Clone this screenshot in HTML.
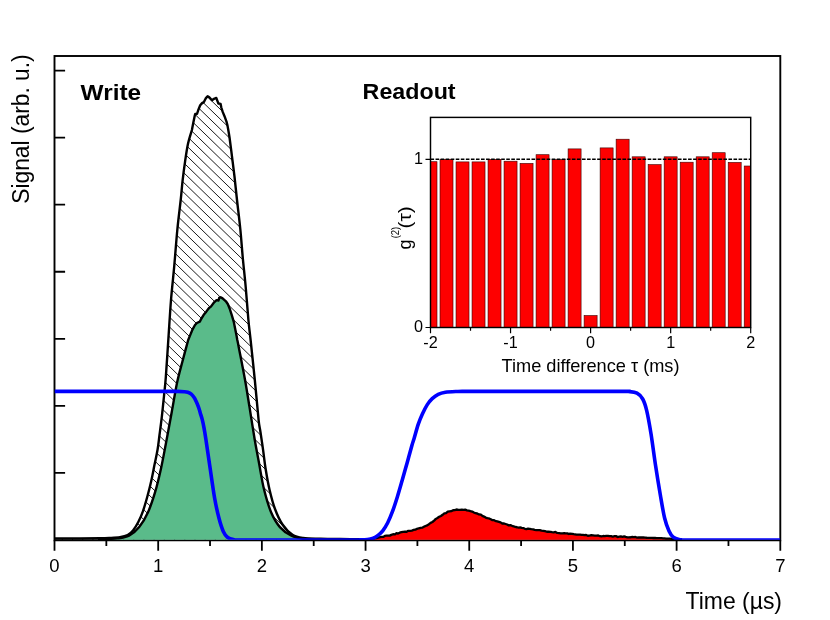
<!DOCTYPE html>
<html><head><meta charset="utf-8"><title>Write / Readout signal</title>
<style>html,body{margin:0;padding:0;background:#fff;}body{width:830px;height:620px;overflow:hidden;font-family:"Liberation Sans",sans-serif;}svg{display:block;will-change:transform;}</style>
</head><body>
<svg width="830" height="620" viewBox="0 0 830 620">
<defs>
<clipPath id="ic"><rect x="430.50" y="117.40" width="320.20" height="210.10"/></clipPath>
<clipPath id="pc"><rect x="54.50" y="56.00" width="725.80" height="483.85"/></clipPath>
<clipPath id="pc2"><rect x="54.50" y="56.00" width="725.80" height="485.30"/></clipPath>
</defs>
<rect width="830" height="620" fill="#fff"/>
<clipPath id="hc"><path d="M54.50,538.50 C58.75,538.50 72.42,538.53 80.00,538.50 C87.58,538.47 95.13,538.38 100.00,538.30 C104.87,538.22 105.88,538.18 109.20,538.00 C112.52,537.82 116.83,537.68 119.90,537.20 C122.97,536.72 125.42,536.22 127.60,535.10 C129.78,533.98 131.22,532.68 133.00,530.50 C134.78,528.32 136.65,525.20 138.30,522.00 C139.95,518.80 141.37,515.63 142.90,511.30 C144.43,506.97 146.10,501.10 147.50,496.00 C148.90,490.90 150.15,485.82 151.30,480.70 C152.45,475.58 153.37,470.42 154.40,465.30 C155.43,460.18 156.65,455.05 157.50,450.00 C158.35,444.95 158.77,440.65 159.50,435.00 C160.23,429.35 161.15,422.60 161.90,416.10 C162.65,409.60 163.35,402.45 164.00,396.00 C164.65,389.55 165.07,386.95 165.80,377.40 C166.53,367.85 167.53,351.60 168.40,338.70 C169.27,325.80 170.05,311.83 171.00,300.00 C171.95,288.17 173.03,279.53 174.10,267.70 C175.17,255.87 176.30,240.28 177.40,229.00 C178.50,217.72 179.83,208.07 180.70,200.00 C181.57,191.93 181.87,187.05 182.60,180.60 C183.33,174.15 184.20,167.43 185.10,161.30 C186.00,155.17 186.87,149.02 188.00,143.80 C189.13,138.58 191.25,132.30 191.90,130.00 L191.90,130.00 L193.30,122.70 L194.80,115.50 L195.20,114.00 L197.00,114.00 L198.40,109.70 L200.20,105.30 L202.10,103.10 L203.90,102.10 L205.70,98.40 L207.60,96.20 L209.30,97.30 L212.00,100.20 L214.00,98.80 L216.30,97.90 L217.30,100.60 L218.40,103.50 L220.60,103.90 L221.30,107.50 L222.70,111.90 L224.50,116.20 L226.40,121.30 L227.50,125.60 L228.30,130.00 L228.30,130.00 C228.52,131.33 228.97,133.43 229.60,138.00 C230.23,142.57 231.28,150.95 232.10,157.40 C232.92,163.85 233.68,169.60 234.50,176.70 C235.32,183.80 236.03,191.28 237.00,200.00 C237.97,208.72 239.33,219.33 240.30,229.00 C241.27,238.67 241.90,248.33 242.80,258.00 C243.70,267.67 244.77,276.67 245.70,287.00 C246.63,297.33 247.58,311.17 248.40,320.00 C249.22,328.83 249.53,330.03 250.60,340.00 C251.67,349.97 253.47,366.47 254.80,379.80 C256.13,393.13 257.68,411.47 258.60,420.00 C259.52,428.53 259.57,426.12 260.30,431.00 C261.03,435.88 262.12,443.02 263.00,449.30 C263.88,455.58 264.50,461.92 265.60,468.70 C266.70,475.48 268.03,483.28 269.60,490.00 C271.17,496.72 272.85,503.25 275.00,509.00 C277.15,514.75 279.58,520.20 282.50,524.50 C285.42,528.80 289.05,532.55 292.50,534.80 C295.95,537.05 298.53,537.35 303.20,538.00 C307.87,538.65 314.37,538.53 320.50,538.70 C326.63,538.87 332.58,538.92 340.00,539.00 C347.42,539.08 360.83,539.17 365.00,539.20 L365,540 L54.5,540 Z"/></clipPath>
<path clip-path="url(#hc)" d="M309.73,-486.26 L884.23,70.47 M304.79,-481.16 L879.29,75.57 M299.85,-476.06 L874.35,80.67 M294.91,-470.96 L869.41,85.77 M289.96,-465.87 L864.47,90.86 M285.02,-460.77 L859.52,95.96 M280.08,-455.67 L854.58,101.06 M275.14,-450.57 L849.64,106.16 M270.20,-445.47 L844.70,111.26 M265.26,-440.37 L839.76,116.36 M260.32,-435.27 L834.82,121.46 M255.38,-430.18 L829.88,126.56 M250.44,-425.08 L824.94,131.65 M245.50,-419.98 L820.00,136.75 M240.55,-414.88 L815.06,141.85 M235.61,-409.78 L810.11,146.95 M230.67,-404.68 L805.17,152.05 M225.73,-399.58 L800.23,157.15 M220.79,-394.48 L795.29,162.25 M215.85,-389.39 L790.35,167.34 M210.91,-384.29 L785.41,172.44 M205.97,-379.19 L780.47,177.54 M201.03,-374.09 L775.53,182.64 M196.09,-368.99 L770.59,187.74 M191.14,-363.89 L765.65,192.84 M186.20,-358.79 L760.70,197.94 M181.26,-353.69 L755.76,203.04 M176.32,-348.60 L750.82,208.13 M171.38,-343.50 L745.88,213.23 M166.44,-338.40 L740.94,218.33 M161.50,-333.30 L736.00,223.43 M156.56,-328.20 L731.06,228.53 M151.62,-323.10 L726.12,233.63 M146.68,-318.00 L721.18,238.73 M141.73,-312.91 L716.24,243.83 M136.79,-307.81 L711.29,248.92 M131.85,-302.71 L706.35,254.02 M126.91,-297.61 L701.41,259.12 M121.97,-292.51 L696.47,264.22 M117.03,-287.41 L691.53,269.32 M112.09,-282.31 L686.59,274.42 M107.15,-277.21 L681.65,279.52 M102.21,-272.12 L676.71,284.61 M97.27,-267.02 L671.77,289.71 M92.32,-261.92 L666.83,294.81 M87.38,-256.82 L661.88,299.91 M82.44,-251.72 L656.94,305.01 M77.50,-246.62 L652.00,310.11 M72.56,-241.52 L647.06,315.21 M67.62,-236.42 L642.12,320.31 M62.68,-231.33 L637.18,325.40 M57.74,-226.23 L632.24,330.50 M52.80,-221.13 L627.30,335.60 M47.86,-216.03 L622.36,340.70 M42.91,-210.93 L617.42,345.80 M37.97,-205.83 L612.48,350.90 M33.03,-200.73 L607.53,356.00 M28.09,-195.64 L602.59,361.10 M23.15,-190.54 L597.65,366.19 M18.21,-185.44 L592.71,371.29 M13.27,-180.34 L587.77,376.39 M8.33,-175.24 L582.83,381.49 M3.39,-170.14 L577.89,386.59 M-1.55,-165.04 L572.95,391.69 M-6.49,-159.94 L568.01,396.79 M-11.44,-154.85 L563.07,401.88 M-16.38,-149.75 L558.12,406.98 M-21.32,-144.65 L553.18,412.08 M-26.26,-139.55 L548.24,417.18 M-31.20,-134.45 L543.30,422.28 M-36.14,-129.35 L538.36,427.38 M-41.08,-124.25 L533.42,432.48 M-46.02,-119.15 L528.48,437.58 M-50.96,-114.06 L523.54,442.67 M-55.90,-108.96 L518.60,447.77 M-60.85,-103.86 L513.66,452.87 M-65.79,-98.76 L508.71,457.97 M-70.73,-93.66 L503.77,463.07 M-75.67,-88.56 L498.83,468.17 M-80.61,-83.46 L493.89,473.27 M-85.55,-78.37 L488.95,478.37 M-90.49,-73.27 L484.01,483.46 M-95.43,-68.17 L479.07,488.56 M-100.37,-63.07 L474.13,493.66 M-105.31,-57.97 L469.19,498.76 M-110.26,-52.87 L464.25,503.86 M-115.20,-47.77 L459.30,508.96 M-120.14,-42.67 L454.36,514.06 M-125.08,-37.58 L449.42,519.15 M-130.02,-32.48 L444.48,524.25 M-134.96,-27.38 L439.54,529.35 M-139.90,-22.28 L434.60,534.45 M-144.84,-17.18 L429.66,539.55 M-149.78,-12.08 L424.72,544.65 M-154.72,-6.98 L419.78,549.75 M-159.67,-1.88 L414.84,554.85 M-164.61,3.21 L409.89,559.94 M-169.55,8.31 L404.95,565.04 M-174.49,13.41 L400.01,570.14 M-179.43,18.51 L395.07,575.24 M-184.37,23.61 L390.13,580.34 M-189.31,28.71 L385.19,585.44 M-194.25,33.81 L380.25,590.54 M-199.19,38.90 L375.31,595.64 M-204.13,44.00 L370.37,600.73 M-209.08,49.10 L365.43,605.83 M-214.02,54.20 L360.49,610.93 M-218.96,59.30 L355.54,616.03 M-223.90,64.40 L350.60,621.13 M-228.84,69.50 L345.66,626.23 M-233.78,74.60 L340.72,631.33 M-238.72,79.69 L335.78,636.42 M-243.66,84.79 L330.84,641.52 M-248.60,89.89 L325.90,646.62 M-253.54,94.99 L320.96,651.72 M-258.48,100.09 L316.02,656.82 M-263.43,105.19 L311.08,661.92 M-268.37,110.29 L306.13,667.02 M-273.31,115.39 L301.19,672.12 M-278.25,120.48 L296.25,677.21 M-283.19,125.58 L291.31,682.31 M-288.13,130.68 L286.37,687.41 M-293.07,135.78 L281.43,692.51 M-298.01,140.88 L276.49,697.61 M-302.95,145.98 L271.55,702.71 M-307.89,151.08 L266.61,707.81 M-312.84,156.17 L261.67,712.91 M-317.78,161.27 L256.72,718.00 M-322.72,166.37 L251.78,723.10 M-327.66,171.47 L246.84,728.20 M-332.60,176.57 L241.90,733.30 M-337.54,181.67 L236.96,738.40 M-342.48,186.77 L232.02,743.50 M-347.42,191.87 L227.08,748.60 M-352.36,196.96 L222.14,753.69 M-357.30,202.06 L217.20,758.79 M-362.25,207.16 L212.26,763.89 M-367.19,212.26 L207.31,768.99 M-372.13,217.36 L202.37,774.09 M-377.07,222.46 L197.43,779.19 M-382.01,227.56 L192.49,784.29 M-386.95,232.66 L187.55,789.39 M-391.89,237.75 L182.61,794.48 M-396.83,242.85 L177.67,799.58 M-401.77,247.95 L172.73,804.68 M-406.71,253.05 L167.79,809.78 M-411.66,258.15 L162.85,814.88 M-416.60,263.25 L157.90,819.98 M-421.54,268.35 L152.96,825.08 M-426.48,273.44 L148.02,830.18 M-431.42,278.54 L143.08,835.27 M-436.36,283.64 L138.14,840.37 M-441.30,288.74 L133.20,845.47 M-446.24,293.84 L128.26,850.57 M-451.18,298.94 L123.32,855.67 M-456.12,304.04 L118.38,860.77 M-461.07,309.14 L113.44,865.87 M-466.01,314.23 L108.49,870.96 M-470.95,319.33 L103.55,876.06 M-475.89,324.43 L98.61,881.16" stroke="#000" stroke-width="0.90" fill="none"/>
<rect x="54.50" y="56.00" width="725.80" height="484.30" fill="none" stroke="#000" stroke-width="1.9"/>
<path d="M54.50,70.60 h10.6 M54.50,137.65 h10.6 M54.50,204.70 h10.6 M54.50,271.75 h10.6 M54.50,338.80 h10.6 M54.50,405.85 h10.6 M54.50,472.90 h10.6 M54.50,540.30 v10.4 M106.34,540.30 v5.8 M158.19,540.30 v10.4 M210.03,540.30 v5.8 M261.87,540.30 v10.4 M313.71,540.30 v5.8 M365.56,540.30 v10.4 M417.40,540.30 v5.8 M469.24,540.30 v10.4 M521.09,540.30 v5.8 M572.93,540.30 v10.4 M624.77,540.30 v5.8 M676.61,540.30 v10.4 M728.46,540.30 v5.8 M780.30,540.30 v10.4" stroke="#000" stroke-width="1.8" fill="none"/>
<path d="M98.00,539.20 C101.23,539.07 112.23,538.97 117.40,538.40 C122.57,537.83 125.37,537.68 129.00,535.80 C132.63,533.92 136.05,530.98 139.20,527.10 C142.35,523.22 145.25,518.32 147.90,512.50 C150.55,506.68 152.93,499.45 155.10,492.20 C157.27,484.95 159.08,477.20 160.90,469.00 C162.72,460.80 164.18,452.55 166.00,443.00 C167.82,433.45 169.95,421.78 171.80,411.70 C173.65,401.62 175.32,390.92 177.10,382.50 C178.88,374.08 180.65,368.28 182.50,361.20 C184.35,354.12 187.25,343.53 188.20,340.00 L188.20,340.00 L190.20,335.10 L192.60,329.30 L195.00,325.00 L196.90,323.00 L199.80,321.60 L200.80,319.70 L203.70,314.80 L206.10,311.90 L209.00,308.00 L210.90,306.60 L213.80,302.70 L216.60,300.10 L218.50,300.50 L219.20,297.90 L220.60,297.20 L222.60,298.40 L225.90,301.30 L227.90,304.20 L229.80,309.00 L231.70,314.80 L233.70,321.60 L235.10,328.40 L236.60,336.10 L237.30,340.00 L237.30,340.00 C237.57,341.33 237.62,341.37 238.90,348.00 C240.18,354.63 243.25,370.07 245.00,379.80 C246.75,389.53 247.80,396.53 249.40,406.40 C251.00,416.27 252.97,429.40 254.60,439.00 C256.23,448.60 257.63,455.62 259.20,464.00 C260.77,472.38 262.00,481.22 264.00,489.30 C266.00,497.38 268.55,506.20 271.20,512.50 C273.85,518.80 276.52,523.22 279.90,527.10 C283.28,530.98 287.63,533.87 291.50,535.80 C295.37,537.73 298.35,538.10 303.10,538.70 C307.85,539.30 317.18,539.28 320.00,539.40 L320,539.85 L98,539.85 Z" fill="#5abb8a" stroke="none"/>
<path d="M362.00,539.36 L363.08,539.26 L364.59,539.27 L366.39,539.05 L368.32,539.03 L370.24,538.86 L372.02,538.66 L373.50,538.60 L375.44,538.23 L376.97,537.99 L378.39,537.58 L380.00,537.22 L381.52,536.92 L383.14,536.94 L384.80,535.96 L386.44,535.70 L388.00,535.71 L389.75,535.59 L391.38,534.84 L393.06,534.26 L395.00,534.33 L396.47,533.17 L398.04,533.57 L399.69,532.72 L401.41,532.23 L403.18,531.84 L405.00,531.63 L406.63,531.75 L408.34,530.84 L410.10,530.86 L411.88,530.56 L413.64,529.94 L415.36,529.69 L417.00,528.81 L418.80,528.27 L420.53,527.86 L422.21,527.71 L423.87,526.83 L425.52,525.99 L427.20,525.38 L428.92,524.21 L430.66,522.86 L432.40,522.00 L434.12,520.58 L435.79,518.90 L437.40,518.07 L439.22,516.81 L440.95,515.98 L442.62,514.80 L444.29,513.45 L446.00,513.23 L447.75,511.74 L449.51,511.40 L451.28,511.20 L453.04,510.24 L454.80,510.19 L456.55,509.50 L458.29,509.84 L460.02,509.79 L461.76,509.59 L463.50,509.94 L465.24,509.64 L466.98,510.32 L468.72,510.65 L470.46,511.13 L472.20,511.56 L473.89,512.49 L475.54,513.23 L477.21,513.50 L478.97,514.43 L480.90,514.70 L482.40,515.92 L484.00,516.56 L485.67,517.60 L487.38,518.19 L489.10,518.45 L490.82,519.24 L492.50,520.15 L494.13,520.17 L495.73,521.14 L497.32,521.42 L498.93,521.91 L500.57,522.37 L502.29,523.52 L504.10,523.47 L505.58,523.98 L507.13,524.52 L508.72,525.37 L510.35,525.06 L512.00,525.80 L513.66,526.28 L515.32,526.95 L516.97,527.25 L518.60,527.63 L520.20,527.41 L521.77,527.82 L523.33,528.03 L524.89,528.76 L526.46,529.06 L528.05,528.57 L529.68,528.83 L531.36,529.11 L533.10,529.36 L534.71,529.81 L536.36,530.13 L538.04,530.05 L539.75,530.04 L541.49,530.63 L543.25,530.81 L545.03,531.20 L546.84,531.77 L548.66,531.75 L550.50,531.81 L552.08,532.09 L553.75,532.34 L555.47,531.98 L557.23,532.94 L559.01,533.03 L560.77,533.31 L562.51,533.44 L564.20,533.26 L565.81,533.44 L567.33,533.35 L568.74,533.98 L570.00,533.61 L572.28,533.89 L573.78,534.23 L575.04,534.36 L576.60,534.68 L579.00,534.60 L580.22,534.62 L581.55,534.83 L583.00,534.86 L584.53,535.16 L586.13,534.93 L587.80,535.76 L589.52,535.59 L591.27,535.24 L593.03,535.40 L594.81,535.56 L596.57,535.64 L598.30,535.49 L600.00,536.21 L601.56,536.41 L603.14,536.00 L604.72,536.08 L606.32,535.79 L607.93,535.87 L609.54,536.15 L611.16,536.14 L612.78,536.72 L614.40,536.18 L616.03,536.12 L617.65,537.02 L619.27,536.70 L620.89,536.42 L622.50,536.84 L624.11,536.43 L625.73,536.94 L627.35,537.41 L628.97,537.36 L630.60,537.27 L632.22,536.93 L633.84,537.08 L635.46,536.96 L637.07,537.56 L638.68,537.40 L640.28,537.48 L641.86,537.45 L643.44,537.48 L645.00,537.66 L646.68,537.76 L648.36,537.80 L650.05,537.86 L651.74,537.93 L653.41,537.99 L655.08,537.95 L656.73,538.08 L658.36,538.12 L659.96,538.13 L661.53,538.20 L663.06,538.32 L664.55,538.38 L666.00,538.54 L667.87,538.69 L669.78,538.68 L671.67,538.89 L673.53,539.00 L675.31,539.10 L676.99,539.08 L678.53,539.14 L679.90,539.22 L681.07,539.29 L682.00,539.34 L682,539.85 L362,539.85 Z" fill="#fe0000" stroke="none"/>
<g clip-path="url(#pc2)">
<path d="M98.00,539.20 C101.23,539.07 112.23,538.97 117.40,538.40 C122.57,537.83 125.37,537.68 129.00,535.80 C132.63,533.92 136.05,530.98 139.20,527.10 C142.35,523.22 145.25,518.32 147.90,512.50 C150.55,506.68 152.93,499.45 155.10,492.20 C157.27,484.95 159.08,477.20 160.90,469.00 C162.72,460.80 164.18,452.55 166.00,443.00 C167.82,433.45 169.95,421.78 171.80,411.70 C173.65,401.62 175.32,390.92 177.10,382.50 C178.88,374.08 180.65,368.28 182.50,361.20 C184.35,354.12 187.25,343.53 188.20,340.00 L188.20,340.00 L190.20,335.10 L192.60,329.30 L195.00,325.00 L196.90,323.00 L199.80,321.60 L200.80,319.70 L203.70,314.80 L206.10,311.90 L209.00,308.00 L210.90,306.60 L213.80,302.70 L216.60,300.10 L218.50,300.50 L219.20,297.90 L220.60,297.20 L222.60,298.40 L225.90,301.30 L227.90,304.20 L229.80,309.00 L231.70,314.80 L233.70,321.60 L235.10,328.40 L236.60,336.10 L237.30,340.00 L237.30,340.00 C237.57,341.33 237.62,341.37 238.90,348.00 C240.18,354.63 243.25,370.07 245.00,379.80 C246.75,389.53 247.80,396.53 249.40,406.40 C251.00,416.27 252.97,429.40 254.60,439.00 C256.23,448.60 257.63,455.62 259.20,464.00 C260.77,472.38 262.00,481.22 264.00,489.30 C266.00,497.38 268.55,506.20 271.20,512.50 C273.85,518.80 276.52,523.22 279.90,527.10 C283.28,530.98 287.63,533.87 291.50,535.80 C295.37,537.73 298.35,538.10 303.10,538.70 C307.85,539.30 317.18,539.28 320.00,539.40" fill="none" stroke="#000" stroke-width="2.4" stroke-linejoin="round"/>
<path d="M54.50,538.50 C58.75,538.50 72.42,538.53 80.00,538.50 C87.58,538.47 95.13,538.38 100.00,538.30 C104.87,538.22 105.88,538.18 109.20,538.00 C112.52,537.82 116.83,537.68 119.90,537.20 C122.97,536.72 125.42,536.22 127.60,535.10 C129.78,533.98 131.22,532.68 133.00,530.50 C134.78,528.32 136.65,525.20 138.30,522.00 C139.95,518.80 141.37,515.63 142.90,511.30 C144.43,506.97 146.10,501.10 147.50,496.00 C148.90,490.90 150.15,485.82 151.30,480.70 C152.45,475.58 153.37,470.42 154.40,465.30 C155.43,460.18 156.65,455.05 157.50,450.00 C158.35,444.95 158.77,440.65 159.50,435.00 C160.23,429.35 161.15,422.60 161.90,416.10 C162.65,409.60 163.35,402.45 164.00,396.00 C164.65,389.55 165.07,386.95 165.80,377.40 C166.53,367.85 167.53,351.60 168.40,338.70 C169.27,325.80 170.05,311.83 171.00,300.00 C171.95,288.17 173.03,279.53 174.10,267.70 C175.17,255.87 176.30,240.28 177.40,229.00 C178.50,217.72 179.83,208.07 180.70,200.00 C181.57,191.93 181.87,187.05 182.60,180.60 C183.33,174.15 184.20,167.43 185.10,161.30 C186.00,155.17 186.87,149.02 188.00,143.80 C189.13,138.58 191.25,132.30 191.90,130.00 L191.90,130.00 L193.30,122.70 L194.80,115.50 L195.20,114.00 L197.00,114.00 L198.40,109.70 L200.20,105.30 L202.10,103.10 L203.90,102.10 L205.70,98.40 L207.60,96.20 L209.30,97.30 L212.00,100.20 L214.00,98.80 L216.30,97.90 L217.30,100.60 L218.40,103.50 L220.60,103.90 L221.30,107.50 L222.70,111.90 L224.50,116.20 L226.40,121.30 L227.50,125.60 L228.30,130.00 L228.30,130.00 C228.52,131.33 228.97,133.43 229.60,138.00 C230.23,142.57 231.28,150.95 232.10,157.40 C232.92,163.85 233.68,169.60 234.50,176.70 C235.32,183.80 236.03,191.28 237.00,200.00 C237.97,208.72 239.33,219.33 240.30,229.00 C241.27,238.67 241.90,248.33 242.80,258.00 C243.70,267.67 244.77,276.67 245.70,287.00 C246.63,297.33 247.58,311.17 248.40,320.00 C249.22,328.83 249.53,330.03 250.60,340.00 C251.67,349.97 253.47,366.47 254.80,379.80 C256.13,393.13 257.68,411.47 258.60,420.00 C259.52,428.53 259.57,426.12 260.30,431.00 C261.03,435.88 262.12,443.02 263.00,449.30 C263.88,455.58 264.50,461.92 265.60,468.70 C266.70,475.48 268.03,483.28 269.60,490.00 C271.17,496.72 272.85,503.25 275.00,509.00 C277.15,514.75 279.58,520.20 282.50,524.50 C285.42,528.80 289.05,532.55 292.50,534.80 C295.95,537.05 298.53,537.35 303.20,538.00 C307.87,538.65 314.37,538.53 320.50,538.70 C326.63,538.87 332.58,538.92 340.00,539.00 C347.42,539.08 360.83,539.17 365.00,539.20" fill="none" stroke="#000" stroke-width="2.4" stroke-linejoin="round"/>
<path d="M362.00,539.36 L363.08,539.26 L364.59,539.27 L366.39,539.05 L368.32,539.03 L370.24,538.86 L372.02,538.66 L373.50,538.60 L375.44,538.23 L376.97,537.99 L378.39,537.58 L380.00,537.22 L381.52,536.92 L383.14,536.94 L384.80,535.96 L386.44,535.70 L388.00,535.71 L389.75,535.59 L391.38,534.84 L393.06,534.26 L395.00,534.33 L396.47,533.17 L398.04,533.57 L399.69,532.72 L401.41,532.23 L403.18,531.84 L405.00,531.63 L406.63,531.75 L408.34,530.84 L410.10,530.86 L411.88,530.56 L413.64,529.94 L415.36,529.69 L417.00,528.81 L418.80,528.27 L420.53,527.86 L422.21,527.71 L423.87,526.83 L425.52,525.99 L427.20,525.38 L428.92,524.21 L430.66,522.86 L432.40,522.00 L434.12,520.58 L435.79,518.90 L437.40,518.07 L439.22,516.81 L440.95,515.98 L442.62,514.80 L444.29,513.45 L446.00,513.23 L447.75,511.74 L449.51,511.40 L451.28,511.20 L453.04,510.24 L454.80,510.19 L456.55,509.50 L458.29,509.84 L460.02,509.79 L461.76,509.59 L463.50,509.94 L465.24,509.64 L466.98,510.32 L468.72,510.65 L470.46,511.13 L472.20,511.56 L473.89,512.49 L475.54,513.23 L477.21,513.50 L478.97,514.43 L480.90,514.70 L482.40,515.92 L484.00,516.56 L485.67,517.60 L487.38,518.19 L489.10,518.45 L490.82,519.24 L492.50,520.15 L494.13,520.17 L495.73,521.14 L497.32,521.42 L498.93,521.91 L500.57,522.37 L502.29,523.52 L504.10,523.47 L505.58,523.98 L507.13,524.52 L508.72,525.37 L510.35,525.06 L512.00,525.80 L513.66,526.28 L515.32,526.95 L516.97,527.25 L518.60,527.63 L520.20,527.41 L521.77,527.82 L523.33,528.03 L524.89,528.76 L526.46,529.06 L528.05,528.57 L529.68,528.83 L531.36,529.11 L533.10,529.36 L534.71,529.81 L536.36,530.13 L538.04,530.05 L539.75,530.04 L541.49,530.63 L543.25,530.81 L545.03,531.20 L546.84,531.77 L548.66,531.75 L550.50,531.81 L552.08,532.09 L553.75,532.34 L555.47,531.98 L557.23,532.94 L559.01,533.03 L560.77,533.31 L562.51,533.44 L564.20,533.26 L565.81,533.44 L567.33,533.35 L568.74,533.98 L570.00,533.61 L572.28,533.89 L573.78,534.23 L575.04,534.36 L576.60,534.68 L579.00,534.60 L580.22,534.62 L581.55,534.83 L583.00,534.86 L584.53,535.16 L586.13,534.93 L587.80,535.76 L589.52,535.59 L591.27,535.24 L593.03,535.40 L594.81,535.56 L596.57,535.64 L598.30,535.49 L600.00,536.21 L601.56,536.41 L603.14,536.00 L604.72,536.08 L606.32,535.79 L607.93,535.87 L609.54,536.15 L611.16,536.14 L612.78,536.72 L614.40,536.18 L616.03,536.12 L617.65,537.02 L619.27,536.70 L620.89,536.42 L622.50,536.84 L624.11,536.43 L625.73,536.94 L627.35,537.41 L628.97,537.36 L630.60,537.27 L632.22,536.93 L633.84,537.08 L635.46,536.96 L637.07,537.56 L638.68,537.40 L640.28,537.48 L641.86,537.45 L643.44,537.48 L645.00,537.66 L646.68,537.76 L648.36,537.80 L650.05,537.86 L651.74,537.93 L653.41,537.99 L655.08,537.95 L656.73,538.08 L658.36,538.12 L659.96,538.13 L661.53,538.20 L663.06,538.32 L664.55,538.38 L666.00,538.54 L667.87,538.69 L669.78,538.68 L671.67,538.89 L673.53,539.00 L675.31,539.10 L676.99,539.08 L678.53,539.14 L679.90,539.22 L681.07,539.29 L682.00,539.34" fill="none" stroke="#000" stroke-width="2.3" stroke-linejoin="round"/>
</g>
<path clip-path="url(#pc)" d="M54.50,391.40 C65.42,391.40 100.75,391.40 120.00,391.40 C139.25,391.40 160.33,391.40 170.00,391.40 C179.67,391.40 175.65,391.35 178.00,391.40 C180.35,391.45 182.48,391.55 184.10,391.70 C185.72,391.85 186.50,391.90 187.70,392.30 C188.90,392.70 190.20,393.20 191.30,394.10 C192.40,395.00 193.50,396.50 194.30,397.70 C195.10,398.90 195.38,399.70 196.10,401.30 C196.82,402.90 197.88,405.28 198.60,407.30 C199.32,409.32 199.80,411.38 200.40,413.40 C201.00,415.42 201.60,417.00 202.20,419.40 C202.80,421.80 203.40,424.58 204.00,427.80 C204.60,431.02 204.83,432.33 205.80,438.70 C206.77,445.07 208.33,456.12 209.80,466.00 C211.27,475.88 213.07,489.28 214.60,498.00 C216.13,506.72 217.55,512.73 219.00,518.30 C220.45,523.87 221.85,528.20 223.30,531.40 C224.75,534.60 226.00,536.13 227.70,537.50 C229.40,538.87 231.12,539.18 233.50,539.60 C235.88,540.02 230.92,539.93 242.00,540.00 C253.08,540.07 282.00,540.00 300.00,540.00 C318.00,540.00 340.00,540.02 350.00,540.00 C360.00,539.98 357.10,539.98 360.00,539.90 C362.90,539.82 365.20,539.78 367.40,539.50 C369.60,539.22 371.43,538.88 373.20,538.20 C374.97,537.52 376.38,536.67 378.00,535.40 C379.62,534.13 381.28,532.70 382.90,530.60 C384.52,528.50 386.08,526.03 387.70,522.80 C389.32,519.57 390.98,515.55 392.60,511.20 C394.22,506.85 395.80,501.85 397.40,496.70 C399.00,491.55 400.58,485.93 402.20,480.30 C403.82,474.67 405.48,468.70 407.10,462.90 C408.72,457.10 410.73,449.57 411.90,445.50 C413.07,441.43 413.03,442.05 414.10,438.50 C415.17,434.95 416.90,428.32 418.30,424.20 C419.70,420.08 421.00,417.07 422.50,413.80 C424.00,410.53 425.68,407.13 427.30,404.60 C428.92,402.07 430.38,400.32 432.20,398.60 C434.02,396.88 436.00,395.37 438.20,394.30 C440.40,393.23 442.38,392.67 445.40,392.20 C448.42,391.73 452.20,391.63 456.30,391.50 C460.40,391.37 456.05,391.42 470.00,391.40 C483.95,391.38 514.67,391.40 540.00,391.40 C565.33,391.40 607.27,391.38 622.00,391.40 C636.73,391.42 625.90,391.20 628.40,391.50 C630.90,391.80 634.62,391.95 637.00,393.20 C639.38,394.45 641.08,396.10 642.70,399.00 C644.32,401.90 645.32,404.80 646.70,410.60 C648.08,416.40 649.52,424.60 651.00,433.80 C652.48,443.00 654.05,455.63 655.60,465.80 C657.15,475.97 658.80,486.10 660.30,494.80 C661.80,503.50 663.15,511.97 664.60,518.00 C666.05,524.03 667.55,527.80 669.00,531.00 C670.45,534.20 671.62,535.80 673.30,537.20 C674.98,538.60 676.65,538.93 679.10,539.40 C681.55,539.87 679.52,539.90 688.00,540.00 C696.48,540.10 714.62,540.00 730.00,540.00 C745.38,540.00 771.92,540.00 780.30,540.00" fill="none" stroke="#0000fe" stroke-width="3.6" stroke-linejoin="round" stroke-linecap="butt"/>
<rect x="430.50" y="117.40" width="320.20" height="210.10" fill="#fff"/>
<g clip-path="url(#ic)">
<rect x="424.00" y="161.70" width="13" height="167.80" fill="#fe0000" stroke="#3a0000" stroke-width="0.6"/>
<rect x="440.01" y="159.30" width="13" height="170.20" fill="#fe0000" stroke="#3a0000" stroke-width="0.6"/>
<rect x="456.02" y="161.90" width="13" height="167.60" fill="#fe0000" stroke="#3a0000" stroke-width="0.6"/>
<rect x="472.03" y="161.90" width="13" height="167.60" fill="#fe0000" stroke="#3a0000" stroke-width="0.6"/>
<rect x="488.04" y="159.30" width="13" height="170.20" fill="#fe0000" stroke="#3a0000" stroke-width="0.6"/>
<rect x="504.05" y="161.20" width="13" height="168.30" fill="#fe0000" stroke="#3a0000" stroke-width="0.6"/>
<rect x="520.06" y="163.40" width="13" height="166.10" fill="#fe0000" stroke="#3a0000" stroke-width="0.6"/>
<rect x="536.07" y="154.70" width="13" height="174.80" fill="#fe0000" stroke="#3a0000" stroke-width="0.6"/>
<rect x="552.08" y="159.50" width="13" height="170.00" fill="#fe0000" stroke="#3a0000" stroke-width="0.6"/>
<rect x="568.09" y="148.90" width="13" height="180.60" fill="#fe0000" stroke="#3a0000" stroke-width="0.6"/>
<rect x="584.10" y="315.50" width="13" height="14.00" fill="#fe0000" stroke="#3a0000" stroke-width="0.6"/>
<rect x="600.11" y="147.90" width="13" height="181.60" fill="#fe0000" stroke="#3a0000" stroke-width="0.6"/>
<rect x="616.12" y="139.20" width="13" height="190.30" fill="#fe0000" stroke="#3a0000" stroke-width="0.6"/>
<rect x="632.13" y="156.80" width="13" height="172.70" fill="#fe0000" stroke="#3a0000" stroke-width="0.6"/>
<rect x="648.14" y="164.60" width="13" height="164.90" fill="#fe0000" stroke="#3a0000" stroke-width="0.6"/>
<rect x="664.15" y="156.80" width="13" height="172.70" fill="#fe0000" stroke="#3a0000" stroke-width="0.6"/>
<rect x="680.16" y="162.20" width="13" height="167.30" fill="#fe0000" stroke="#3a0000" stroke-width="0.6"/>
<rect x="696.17" y="156.80" width="13" height="172.70" fill="#fe0000" stroke="#3a0000" stroke-width="0.6"/>
<rect x="712.18" y="152.70" width="13" height="176.80" fill="#fe0000" stroke="#3a0000" stroke-width="0.6"/>
<rect x="728.19" y="162.40" width="13" height="167.10" fill="#fe0000" stroke="#3a0000" stroke-width="0.6"/>
<rect x="744.20" y="166.00" width="13" height="163.50" fill="#fe0000" stroke="#3a0000" stroke-width="0.6"/>
</g>
<path d="M430.50,159.3 H750.70" stroke="#000" stroke-width="1.4" stroke-dasharray="3.6 1.45" fill="none"/>
<rect x="430.50" y="117.40" width="320.20" height="210.10" fill="none" stroke="#000" stroke-width="1.45"/>
<path d="M430.50,327.50 v5.8 M470.52,327.50 v3.2 M510.55,327.50 v5.8 M550.58,327.50 v3.2 M590.60,327.50 v5.8 M630.62,327.50 v3.2 M670.65,327.50 v5.8 M710.68,327.50 v3.2 M750.70,327.50 v5.8 M430.50,327.50 h-5 M430.50,159.30 h-5" stroke="#000" stroke-width="1.2" fill="none"/>
<text x="54.50" y="572" font-size="18.5" text-anchor="middle" font-family="Liberation Sans, sans-serif">0</text>
<text x="158.19" y="572" font-size="18.5" text-anchor="middle" font-family="Liberation Sans, sans-serif">1</text>
<text x="261.87" y="572" font-size="18.5" text-anchor="middle" font-family="Liberation Sans, sans-serif">2</text>
<text x="365.56" y="572" font-size="18.5" text-anchor="middle" font-family="Liberation Sans, sans-serif">3</text>
<text x="469.24" y="572" font-size="18.5" text-anchor="middle" font-family="Liberation Sans, sans-serif">4</text>
<text x="572.93" y="572" font-size="18.5" text-anchor="middle" font-family="Liberation Sans, sans-serif">5</text>
<text x="676.61" y="572" font-size="18.5" text-anchor="middle" font-family="Liberation Sans, sans-serif">6</text>
<text x="780.30" y="572" font-size="18.5" text-anchor="middle" font-family="Liberation Sans, sans-serif">7</text>
<text x="782" y="608.8" font-size="23.4" text-anchor="end" textLength="96.5" lengthAdjust="spacingAndGlyphs" font-family="Liberation Sans, sans-serif">Time (µs)</text>
<text transform="translate(29,203.8) rotate(-90)" font-size="23.5" textLength="149.5" lengthAdjust="spacingAndGlyphs" font-family="Liberation Sans, sans-serif">Signal (arb. u.)</text>
<text x="80.6" y="99.8" font-size="22.7" font-weight="bold" textLength="60.5" lengthAdjust="spacingAndGlyphs" font-family="Liberation Sans, sans-serif">Write</text>
<text x="362.6" y="98.9" font-size="22.7" font-weight="bold" textLength="93" lengthAdjust="spacingAndGlyphs" font-family="Liberation Sans, sans-serif">Readout</text>
<text x="430.50" y="347.7" font-size="16.2" text-anchor="middle" font-family="Liberation Sans, sans-serif">-2</text>
<text x="510.55" y="347.7" font-size="16.2" text-anchor="middle" font-family="Liberation Sans, sans-serif">-1</text>
<text x="590.60" y="347.7" font-size="16.2" text-anchor="middle" font-family="Liberation Sans, sans-serif">0</text>
<text x="670.65" y="347.7" font-size="16.2" text-anchor="middle" font-family="Liberation Sans, sans-serif">1</text>
<text x="750.70" y="347.7" font-size="16.2" text-anchor="middle" font-family="Liberation Sans, sans-serif">2</text>
<text x="423" y="331.9" font-size="16.2" text-anchor="end" font-family="Liberation Sans, sans-serif">0</text>
<text x="423" y="163.7" font-size="16.2" text-anchor="end" font-family="Liberation Sans, sans-serif">1</text>
<text x="590.5" y="371.8" font-size="18.6" text-anchor="middle" textLength="178" lengthAdjust="spacingAndGlyphs" font-family="Liberation Sans, sans-serif">Time difference τ (ms)</text>
<g transform="translate(410.6,249.5) rotate(-90)" font-family="Liberation Sans, sans-serif"><text font-size="18" x="0" y="0">g</text><text font-size="11" x="11.2" y="-11.6" textLength="11.6" lengthAdjust="spacingAndGlyphs">(2)</text><text font-size="18" x="21" y="0" textLength="22.3" lengthAdjust="spacingAndGlyphs">(τ)</text></g>
</svg>
</body></html>
